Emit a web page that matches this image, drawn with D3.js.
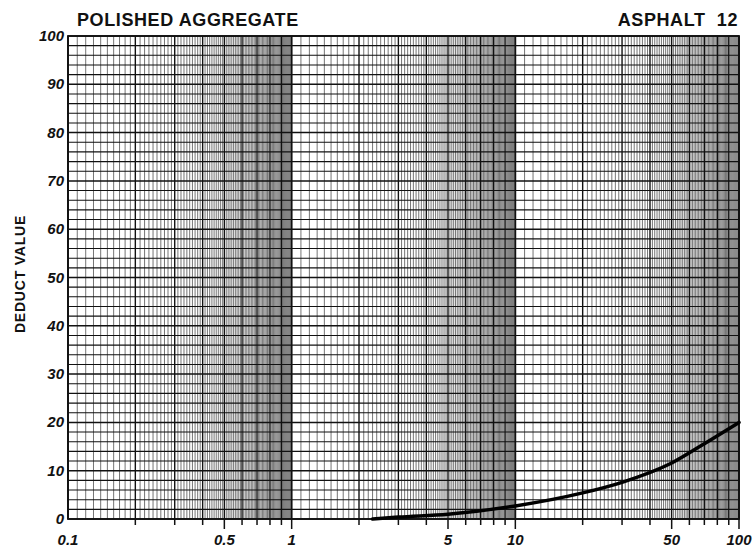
<!DOCTYPE html>
<html>
<head>
<meta charset="utf-8">
<script src="https://cdn.jsdelivr.net/npm/d3@7"></script>
<style>
  body { margin: 0; background: #fff; }
  svg { display: block; }
  .lbl { font-family: "Liberation Sans", Arial, sans-serif; font-weight: bold; fill: #111; }
</style>
</head>
<body>
<div id="chart"></div>
<script>
// chart data
var titleLeft = "POLISHED AGGREGATE";
var titleRight = "ASPHALT  12";
var yTitle = "DEDUCT VALUE";
var xTickValues = [0.1, 0.5, 1, 5, 10, 50, 100];
var xTickLabels = ["0.1", "0.5", "1", "5", "10", "50", "100"];
var yTickValues = [0, 10, 20, 30, 40, 50, 60, 70, 80, 90, 100];
var curveDensity = [2.3, 3, 5, 10, 20, 30, 50, 70, 100];
var curveDeduct  = [0, 0.4, 1.0, 2.7, 5.4, 7.6, 11.6, 15.6, 20];

// svg box size
var width = 755,
    height = 550;

var margins = {};
margins.top    = 36,
margins.bottom = 31,
margins.left   = 68,
margins.right  = 16;

var svg = d3.select("#chart").append("svg")
    .attr("width", width)
    .attr("height", height);

var x = d3.scaleLog()
    .domain([0.1, 100])
    .range([margins.left, width - margins.right]);

var y = d3.scaleLinear()
    .domain([0, 100])
    .range([height - margins.bottom, margins.top]);

//////////////////
// Grid paper
//////////////////

// vertical lines: 0.1 steps inside each decade (scaled)
var vLines = [];
[0.1, 1, 10].forEach(function(dec) {
    for (var k = 10; k <= 100; k++) {
        if (k == 100 && dec != 10) continue;
        var type = (k % 10 == 0) ? (k == 10 || k == 100 ? "decade" : "major") : "minor";
        vLines.push({ v: dec * k / 10, type: type });
    }
});

var grid = svg.append("g").attr("class", "grid");

grid.selectAll("line.v")
    .data(vLines)
    .enter().append("line")
    .attr("class", "v")
    .attr("x1", function(d) { return x(d.v); })
    .attr("x2", function(d) { return x(d.v); })
    .attr("y1", y(0))
    .attr("y2", y(100))
    .style("stroke", function(d) { return d.type == "minor" ? "#3a3a3a" : "#111"; })
    .style("stroke-width", function(d) {
        if (d.type == "decade") return 1.8;
        if (d.type == "major") return 1.4;
        return 0.7;
    });

// horizontal lines every 2 units
var hLines = d3.range(0, 101, 2);
grid.selectAll("line.h")
    .data(hLines)
    .enter().append("line")
    .attr("class", "h")
    .attr("x1", x(0.1))
    .attr("x2", x(100))
    .attr("y1", function(d) { return y(d); })
    .attr("y2", function(d) { return y(d); })
    .style("stroke", "#111")
    .style("stroke-width", function(d) { return d % 10 == 0 ? 1.5 : 1.1; });

// frame
svg.append("rect")
    .attr("x", x(0.1))
    .attr("y", y(100))
    .attr("width", x(100) - x(0.1))
    .attr("height", y(0) - y(100))
    .style("fill", "none")
    .style("stroke", "#111")
    .style("stroke-width", 1.8);

// bottom tick marks
var tickVals = [];
[0.1, 1, 10].forEach(function(dec) {
    for (var m = 2; m <= 10; m++) tickVals.push(dec * m);
});
svg.append("g").selectAll("line")
    .data(tickVals)
    .enter().append("line")
    .attr("x1", function(d) { return x(d); })
    .attr("x2", function(d) { return x(d); })
    .attr("y1", y(0))
    .attr("y2", function(d) {
        var lead = d / Math.pow(10, Math.floor(Math.log10(d) + 1e-9));
        return y(0) + (Math.abs(lead - 5) < 1e-6 || Math.abs(lead - 1) < 1e-6 ? 10 : 6);
    })
    .style("stroke", "#111")
    .style("stroke-width", 1.5);

//////////////
// Labels
//////////////

svg.append("g").selectAll("text")
    .data(yTickValues)
    .enter().append("text")
    .attr("class", "lbl")
    .attr("x", margins.left - 4)
    .attr("y", function(d) { return y(d) + 5; })
    .attr("text-anchor", "end")
    .style("font-size", "15px")
    .style("font-style", "italic")
    .text(function(d) { return d; });

svg.append("g").selectAll("text")
    .data(xTickValues)
    .enter().append("text")
    .attr("class", "lbl")
    .attr("x", function(d) { return x(d); })
    .attr("y", 545)
    .attr("text-anchor", "middle")
    .style("font-size", "15px")
    .style("font-style", "italic")
    .text(function(d, i) { return xTickLabels[i]; });

svg.append("text")
    .attr("class", "lbl")
    .attr("x", 77)
    .attr("y", 26)
    .style("font-size", "18px")
    .style("letter-spacing", "0.6px")
    .text(titleLeft);

svg.append("text")
    .attr("class", "lbl")
    .attr("x", 738)
    .attr("y", 26)
    .attr("text-anchor", "end")
    .style("font-size", "18px")
    .style("letter-spacing", "0.6px")
    .style("white-space", "pre")
    .text(titleRight);

svg.append("text")
    .attr("class", "lbl")
    .attr("transform", "translate(25," + 274 + ") rotate(-90)")
    .attr("text-anchor", "middle")
    .style("font-size", "14px")
    .style("letter-spacing", "0.8px")
    .text(yTitle);

//////////////
// Curve
//////////////

var pts = curveDensity.map(function(d, i) { return [d, curveDeduct[i]]; });

var line = d3.line()
    .x(function(d) { return x(d[0]); })
    .y(function(d) { return y(d[1]); })
    .curve(d3.curveMonotoneX);

svg.append("path")
    .datum(pts)
    .attr("d", line)
    .style("fill", "none")
    .style("stroke", "#000")
    .style("stroke-width", 3.5)
    .style("stroke-linecap", "round");
</script>
</body>
</html>
